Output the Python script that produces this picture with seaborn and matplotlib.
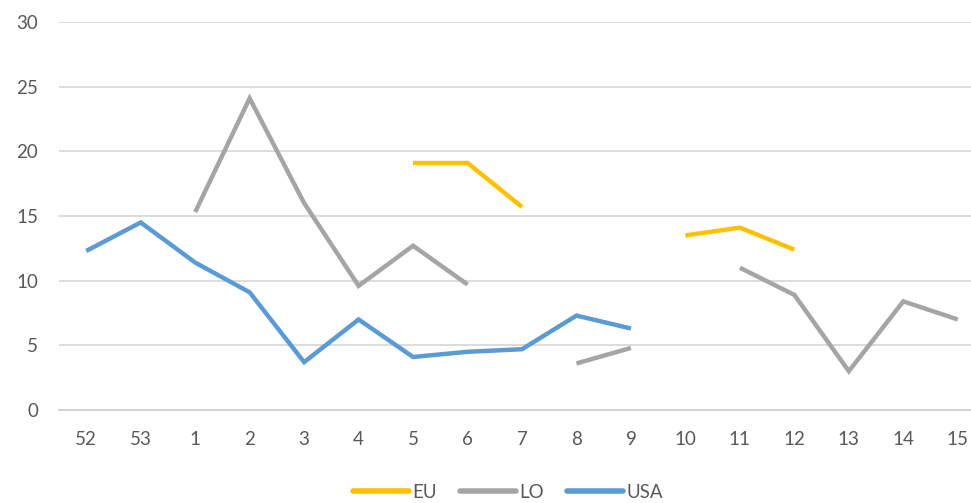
import numpy as np
import pandas as pd
import matplotlib
matplotlib.use("Agg")
import matplotlib.pyplot as plt
from matplotlib.lines import Line2D
import seaborn as sns

# --- DATA ---
weeks = ["52", "53", "1", "2", "3", "4", "5", "6", "7", "8", "9", "10", "11", "12", "13", "14", "15"]
eu = [np.nan, np.nan, np.nan, np.nan, np.nan, np.nan, 19.1, 19.1, 15.7, np.nan, np.nan, 13.5, 14.1, 12.4, np.nan, np.nan, np.nan]
lo = [np.nan, np.nan, 15.3, 24.1, 16.0, 9.6, 12.7, 9.7, np.nan, 3.6, 4.8, np.nan, 11.0, 8.9, 3.0, 8.4, 7.0]
usa = [12.3, 14.5, 11.4, 9.1, 3.7, 7.0, 4.1, 4.5, 4.7, 7.3, 6.3, np.nan, np.nan, np.nan, np.nan, np.nan, np.nan]

series = {"EU": eu, "LO": lo, "USA": usa}
colors = {"EU": "#FFC000", "LO": "#A5A5A5", "USA": "#5B9BD5"}

# long table, with a segment id so gaps stay gaps
rows = []
for name, vals in series.items():
    seg = 0
    prev_nan = True
    for i, v in enumerate(vals):
        if np.isnan(v):
            prev_nan = True
            continue
        if prev_nan:
            seg += 1
            prev_nan = False
        rows.append({"pos": i, "value": v, "series": name, "seg": f"{name}_{seg}"})
df = pd.DataFrame(rows)

sns.set_style("white")
plt.rcParams["font.family"] = ["Lato", "DejaVu Sans"]
text_color = "#595959"

fig = plt.figure(figsize=(9.71, 5.03), dpi=100)
ax = fig.add_axes([59 / 971, (503 - 410) / 503, 926 / 971, 388 / 503])

for name in series:
    sub = df[df["series"] == name]
    sns.lineplot(data=sub, x="pos", y="value", units="seg", estimator=None,
                 color=colors[name], linewidth=3.2, ax=ax, legend=False,
                 solid_capstyle="butt", solid_joinstyle="miter")

ax.set_xlim(-0.5, len(weeks) - 0.5)
ax.set_ylim(0, 30)
ax.set_xticks(range(len(weeks)))
ax.set_xticklabels(weeks)
ax.set_yticks(range(0, 31, 5))
ax.yaxis.grid(True, color="#D9D9D9", linewidth=1.3)
ax.set_axisbelow(True)
ax.tick_params(axis="both", length=0, labelsize=13.5, labelcolor=text_color, pad=15)
ax.set_xlabel("")
ax.set_ylabel("")
for s in ["top", "right", "left"]:
    ax.spines[s].set_visible(False)
ax.spines["bottom"].set_color("#D0D0D0")
ax.spines["bottom"].set_linewidth(1.3)

handles = [Line2D([0], [0], color=colors[n], linewidth=4, solid_capstyle="round") for n in series]
fig.legend(handles, list(series.keys()), loc="center", bbox_to_anchor=(508 / 971, 1 - 492 / 503),
           ncol=3, frameon=False, fontsize=13.5, labelcolor=text_color,
           handlelength=3.0, handletextpad=0.2, columnspacing=1.2)

fig.savefig("out.png", dpi=100)
